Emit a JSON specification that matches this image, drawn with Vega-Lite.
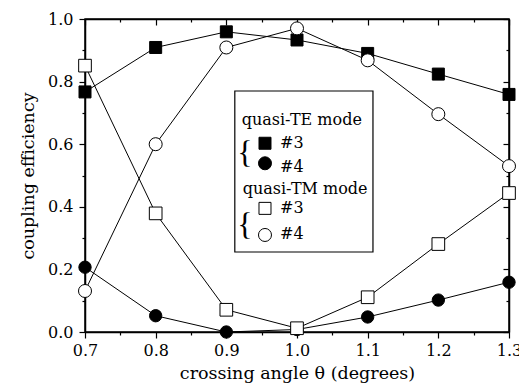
{
  "$schema": "https://vega.github.io/schema/vega-lite/v6.json",
  "width": 424,
  "height": 313,
  "autosize": {"type": "none"},
  "padding": {"left": 85, "top": 19, "right": 10, "bottom": 60},
  "background": "white",
  "config": {
    "view": {"stroke": "black", "strokeWidth": 1.5},
    "axis": {
      "domainColor": "black", "domainWidth": 1.5,
      "tickColor": "black", "tickWidth": 1.2,
      "labelFont": "DejaVu Serif", "labelFontSize": 16, "labelColor": "black", "labelFontWeight": "normal",
      "titleFont": "DejaVu Serif", "titleFontSize": 17.5, "titleFontWeight": "normal", "titleColor": "black",
      "labelPadding": 4, "grid": false
    },
    "text": {"font": "DejaVu Serif", "fontSize": 16, "color": "black", "fontWeight": "normal"}
  },
  "datasets": {
    "one": [{}],
    "curves": [
    {"angle": 0.7, "eff": 0.767, "series": "TE3"},
    {"angle": 0.8, "eff": 0.909, "series": "TE3"},
    {"angle": 0.9, "eff": 0.959, "series": "TE3"},
    {"angle": 1.0, "eff": 0.933, "series": "TE3"},
    {"angle": 1.1, "eff": 0.890, "series": "TE3"},
    {"angle": 1.2, "eff": 0.824, "series": "TE3"},
    {"angle": 1.3, "eff": 0.759, "series": "TE3"},
    {"angle": 0.7, "eff": 0.207, "series": "TE4"},
    {"angle": 0.8, "eff": 0.052, "series": "TE4"},
    {"angle": 0.9, "eff": 0.0, "series": "TE4"},
    {"angle": 1.0, "eff": 0.008, "series": "TE4"},
    {"angle": 1.1, "eff": 0.048, "series": "TE4"},
    {"angle": 1.2, "eff": 0.102, "series": "TE4"},
    {"angle": 1.3, "eff": 0.159, "series": "TE4"},
    {"angle": 0.7, "eff": 0.851, "series": "TM3"},
    {"angle": 0.8, "eff": 0.379, "series": "TM3"},
    {"angle": 0.9, "eff": 0.071, "series": "TM3"},
    {"angle": 1.0, "eff": 0.012, "series": "TM3"},
    {"angle": 1.1, "eff": 0.111, "series": "TM3"},
    {"angle": 1.2, "eff": 0.281, "series": "TM3"},
    {"angle": 1.3, "eff": 0.444, "series": "TM3"},
    {"angle": 0.7, "eff": 0.131, "series": "TM4"},
    {"angle": 0.8, "eff": 0.600, "series": "TM4"},
    {"angle": 0.9, "eff": 0.909, "series": "TM4"},
    {"angle": 1.0, "eff": 0.970, "series": "TM4"},
    {"angle": 1.1, "eff": 0.868, "series": "TM4"},
    {"angle": 1.2, "eff": 0.696, "series": "TM4"},
    {"angle": 1.3, "eff": 0.530, "series": "TM4"}
  ]},
  "resolve": {"scale": {"x": "shared", "y": "shared"}, "axis": {"x": "independent", "y": "independent"}},
  "layer": [
    {
      "data": {"name": "curves"},
      "mark": {"type": "line", "color": "black", "strokeWidth": 1},
      "encoding": {
        "x": {"field": "angle", "type": "quantitative",
          "scale": {"domain": [0.7, 1.3], "nice": false, "zero": false},
          "axis": {"orient": "bottom", "values": [0.7,0.75,0.8,0.85,0.9,0.95,1.0,1.05,1.1,1.15,1.2,1.25,1.3],
            "format": ".1f",
            "labelExpr": "abs(datum.value*10-round(datum.value*10))<0.01 ? datum.label : ''",
            "tickSize": {"condition": {"test": "abs(datum.value*10-round(datum.value*10))<0.01", "value": 6}, "value": 3},
            "labelFlush": false, "labelOverlap": false, "titlePadding": 6,
            "title": "crossing angle θ (degrees)"}},
        "y": {"field": "eff", "type": "quantitative",
          "scale": {"domain": [0, 1], "nice": false, "zero": false},
          "axis": {"orient": "left", "values": [0,0.1,0.2,0.3,0.4,0.5,0.6,0.7,0.8,0.9,1.0],
            "format": ".1f",
            "labelExpr": "round(datum.value*10)%2==0 ? datum.label : ''",
            "tickSize": {"condition": {"test": "round(datum.value*10)%2==0", "value": 6}, "value": 3},
            "labelPadding": 6,
            "labelFlush": false, "labelOverlap": false, "titlePadding": 10,
            "title": "coupling efficiency"}},
        "detail": {"field": "series"}
      }
    },
    {
      "data": {"name": "curves"},
      "mark": {"type": "point", "filled": true, "stroke": "black", "strokeWidth": 1, "opacity": 1},
      "encoding": {
        "x": {"field": "angle", "type": "quantitative",
          "axis": {"orient": "top", "values": [0.7,0.75,0.8,0.85,0.9,0.95,1.0,1.05,1.1,1.15,1.2,1.25,1.3],
            "labels": false, "title": null,
            "tickSize": {"condition": {"test": "abs(datum.value*10-round(datum.value*10))<0.01", "value": -6}, "value": -3}}},
        "y": {"field": "eff", "type": "quantitative",
          "axis": {"orient": "right", "values": [0,0.1,0.2,0.3,0.4,0.5,0.6,0.7,0.8,0.9,1.0],
            "labels": false, "title": null,
            "tickSize": {"condition": {"test": "round(datum.value*10)%2==0", "value": -6}, "value": -3}}},
        "shape": {"field": "series", "scale": {"domain": ["TE3","TE4","TM3","TM4"], "range": ["square","circle","square","circle"]}, "legend": null},
        "fill": {"field": "series", "scale": {"domain": ["TE3","TE4","TM3","TM4"], "range": ["black","black","white","white"]}, "legend": null},
        "size": {"field": "series", "scale": {"domain": ["TE3","TE4","TM3","TM4"], "range": [144,169,144,169]}, "legend": null},
        "order": {"field": "series", "sort": "ascending"}
      }
    },
    {
      "data": {"name": "one"},
      "mark": {"type": "rect", "fill": "white", "stroke": "black", "strokeWidth": 1.2},
      "encoding": {
        "x": {"datum": 0.912, "type": "quantitative", "axis": null},
        "x2": {"datum": 1.1075},
        "y": {"datum": 0.2556, "type": "quantitative", "axis": null},
        "y2": {"datum": 0.770}
      }
    },
    {
      "data": {"name": "one"},
      "mark": {"type": "text", "align": "left", "baseline": "alphabetic"},
      "encoding": {
        "x": {"datum": 0.9217, "type": "quantitative", "axis": null},
        "y": {"datum": 0.661, "type": "quantitative", "axis": null},
        "text": {"value": "quasi-TE mode"}
      }
    },
    {
      "data": {"name": "one"},
      "mark": {"type": "text", "align": "left", "baseline": "alphabetic"},
      "encoding": {
        "x": {"datum": 0.9231, "type": "quantitative", "axis": null},
        "y": {"datum": 0.441, "type": "quantitative", "axis": null},
        "text": {"value": "quasi-TM mode"}
      }
    },
    {
      "data": {"name": "one"},
      "mark": {"type": "text", "align": "center", "baseline": "middle", "fontSize": 32, "font": "Liberation Serif"},
      "encoding": {
        "x": {"datum": 0.9264, "type": "quantitative", "axis": null},
        "y": {"datum": 0.572, "type": "quantitative", "axis": null},
        "text": {"value": "{"}
      }
    },
    {
      "data": {"name": "one"},
      "mark": {"type": "text", "align": "center", "baseline": "middle", "fontSize": 32, "font": "Liberation Serif"},
      "encoding": {
        "x": {"datum": 0.9264, "type": "quantitative", "axis": null},
        "y": {"datum": 0.342, "type": "quantitative", "axis": null},
        "text": {"value": "{"}
      }
    },
    {
      "data": {"name": "one"},
      "mark": {"type": "point", "shape": "square", "filled": true, "fill": "black", "stroke": "black", "strokeWidth": 1, "size": 144, "opacity": 1},
      "encoding": {
        "x": {"datum": 0.9547, "type": "quantitative", "axis": null},
        "y": {"datum": 0.603, "type": "quantitative", "axis": null}
      }
    },
    {
      "data": {"name": "one"},
      "mark": {"type": "point", "shape": "circle", "filled": true, "fill": "black", "stroke": "black", "strokeWidth": 1, "size": 169, "opacity": 1},
      "encoding": {
        "x": {"datum": 0.9547, "type": "quantitative", "axis": null},
        "y": {"datum": 0.539, "type": "quantitative", "axis": null}
      }
    },
    {
      "data": {"name": "one"},
      "mark": {"type": "point", "shape": "square", "filled": true, "fill": "white", "stroke": "black", "strokeWidth": 1, "size": 144, "opacity": 1},
      "encoding": {
        "x": {"datum": 0.9547, "type": "quantitative", "axis": null},
        "y": {"datum": 0.395, "type": "quantitative", "axis": null}
      }
    },
    {
      "data": {"name": "one"},
      "mark": {"type": "point", "shape": "circle", "filled": true, "fill": "white", "stroke": "black", "strokeWidth": 1, "size": 169, "opacity": 1},
      "encoding": {
        "x": {"datum": 0.9547, "type": "quantitative", "axis": null},
        "y": {"datum": 0.310, "type": "quantitative", "axis": null}
      }
    },
    {
      "data": {"name": "one"},
      "mark": {"type": "text", "align": "left", "baseline": "alphabetic"},
      "encoding": {
        "x": {"datum": 0.976, "type": "quantitative", "axis": null},
        "y": {"datum": 0.588, "type": "quantitative", "axis": null},
        "text": {"value": "#3"}
      }
    },
    {
      "data": {"name": "one"},
      "mark": {"type": "text", "align": "left", "baseline": "alphabetic"},
      "encoding": {
        "x": {"datum": 0.976, "type": "quantitative", "axis": null},
        "y": {"datum": 0.512, "type": "quantitative", "axis": null},
        "text": {"value": "#4"}
      }
    },
    {
      "data": {"name": "one"},
      "mark": {"type": "text", "align": "left", "baseline": "alphabetic"},
      "encoding": {
        "x": {"datum": 0.976, "type": "quantitative", "axis": null},
        "y": {"datum": 0.380, "type": "quantitative", "axis": null},
        "text": {"value": "#3"}
      }
    },
    {
      "data": {"name": "one"},
      "mark": {"type": "text", "align": "left", "baseline": "alphabetic"},
      "encoding": {
        "x": {"datum": 0.976, "type": "quantitative", "axis": null},
        "y": {"datum": 0.296, "type": "quantitative", "axis": null},
        "text": {"value": "#4"}
      }
    }
  ]
}
